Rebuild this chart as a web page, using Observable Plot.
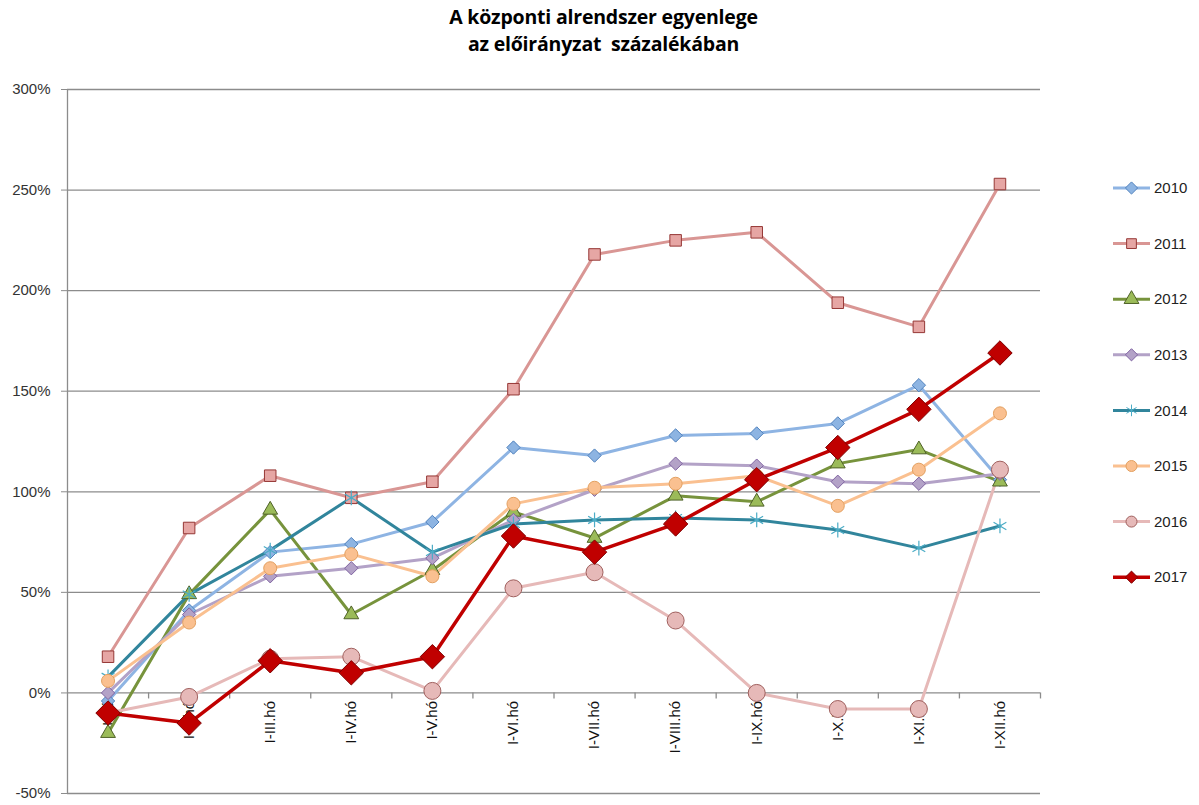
<!DOCTYPE html>
<html>
<head>
<meta charset="utf-8">
<script src="https://cdn.jsdelivr.net/npm/d3@7"></script>
<script src="https://cdn.jsdelivr.net/npm/@observablehq/plot@0.6"></script>
<style>
  body { margin: 0; background: #fff; width: 1199px; height: 805px; overflow: hidden; position: relative; font-family: "Liberation Sans", Arial, sans-serif; }
  #title { height: 70px; box-sizing: border-box; padding-top: 3px; text-align: center; font-family: "Open Sans", sans-serif; font-weight: 700; font-size: 19.5px; line-height: 27px; color: #000; padding-left: 8px; letter-spacing: -0.2px; }
  #legend { position: absolute; left: 1105px; top: 160px; }
</style>
</head>
<body>
<div id="title">A központi alrendszer egyenlege<br>az előirányzat&nbsp; százalékában</div>
<div id="chart"></div>
<div id="legend"></div>
<script>
// ---- data ----
const months = ["I.hó","I-II.hó","I-III.hó","I-IV.hó","I-V.hó","I-VI.hó","I-VII.hó","I-VIII.hó","I-IX.hó","I-X.hó","I-XI.hó","I-XII.hó"];
const years = ["2010","2011","2012","2013","2014","2015","2016","2017"];
const yTicks = [-50, 0, 50, 100, 150, 200, 250, 300];

const v2010 = [-4, 41, 70, 74, 85, 122, 118, 128, 129, 134, 153, 106];
const v2011 = [18, 82, 108, 97, 105, 151, 218, 225, 229, 194, 182, 253];
const v2012 = [-20, 49, 91, 39, 61, 90, 77, 98, 95, 114, 121, 105];
const v2013 = [0, 39, 58, 62, 67, 86, 101, 114, 113, 105, 104, 109];
const v2014 = [8, 49, 71, 97, 70, 84, 86, 87, 86, 81, 72, 83];
const v2015 = [6, 35, 62, 69, 58, 94, 102, 104, 108, 93, 111, 139];
const v2016 = [-10, -2, 17, 18, 1, 52, 60, 36, 0, -8, -8, 111];
const v2017 = [-10, -15, 16, 10, 18, 78, 70, 84, 106, 122, 141, 169];

const seriesValues = {"2010": v2010, "2011": v2011, "2012": v2012, "2013": v2013,
                      "2014": v2014, "2015": v2015, "2016": v2016, "2017": v2017};

// ---- styles ----
const styles = {
  "2010": {line: "#8EB4E3", fill: "#8DB4E2", stroke: "#4F81BD", symbol: "diamond2", r: 6, sw: 3},
  "2011": {line: "#D99694", fill: "#E6A6A4", stroke: "#953735", symbol: "square", r: 6.5, sw: 3},
  "2012": {line: "#77933C", fill: "#9BBB59", stroke: "#4F6228", symbol: "triangle", r: 5.5, sw: 3},
  "2013": {line: "#B3A2C7", fill: "#B3A2C7", stroke: "#8064A2", symbol: "diamond2", r: 6, sw: 3},
  "2014": {line: "#31859C", fill: "none", stroke: "#4BACC6", symbol: "asterisk", r: 7, sw: 3},
  "2015": {line: "#FAC090", fill: "#FAC090", stroke: "#E3A060", symbol: "circle", r: 6.5, sw: 3},
  "2016": {line: "#E6B9B8", fill: "#E6B9B8", stroke: "#A0605E", symbol: "circle", r: 8.5, sw: 3},
  "2017": {line: "#C00000", fill: "#C00000", stroke: "#7F0000", symbol: "diamond2", r: 11, sw: 3.5}
};

// ---- table ----
const rows = years.flatMap(yr => seriesValues[yr].map((v, i) => ({year: yr, i, month: months[i], value: v})));
const bounds = months.map((m, i) => i + 0.5);

const marks = [
  Plot.ruleY(yTicks, {stroke: "#8c8c8c", strokeWidth: 1.3}),
  Plot.ruleX([-0.5], {y1: -50, y2: 300, stroke: "#8c8c8c", strokeWidth: 1.3}),
  Plot.ruleX(bounds, {y1: 0, y2: -3, stroke: "#8c8c8c", strokeWidth: 1.3}),
  Plot.axisY({ticks: yTicks, tickFormat: d => d + "%", tickSize: 6, tickPadding: 11, stroke: "#8c8c8c", fill: "#333", fontSize: 15, label: null}),
  Plot.text(months, {x: (d, i) => i, y: () => 0, text: d => d, rotate: -90, textAnchor: "end", dy: 8, fontSize: 15, fill: "#111", fontFamily: "Liberation Sans, Arial, sans-serif"})
];

for (const yr of years) {
  const s = styles[yr];
  const data = rows.filter(d => d.year === yr);
  marks.push(Plot.line(data, {x: "i", y: "value", stroke: s.line, strokeWidth: s.sw, strokeLinejoin: "round"}));
}
for (const yr of years) {
  const s = styles[yr];
  const data = rows.filter(d => d.year === yr);
  if (s.symbol === "asterisk") {
    marks.push(Plot.dot(data, {x: "i", y: "value", symbol: "asterisk", r: s.r, stroke: s.stroke, strokeWidth: 1.2}));
  } else {
    marks.push(Plot.dot(data, {x: "i", y: "value", symbol: s.symbol, r: s.r, fill: s.fill, stroke: s.stroke, strokeWidth: 1}));
  }
}

const chart = Plot.plot({
  width: 1199,
  height: 735,
  marginTop: 19,
  marginBottom: 12,
  marginLeft: 67,
  marginRight: 159,
  style: {fontFamily: "Liberation Sans, Arial, sans-serif", fontSize: "15px", background: "#fff"},
  x: {type: "linear", domain: [-0.5, 11.5], axis: null},
  y: {domain: [-50, 300], axis: null},
  marks
});
document.getElementById("chart").appendChild(chart);

// ---- legend ----
const legW = 94, rowH = 55.6;
const leg = d3.select("#legend").append("svg").attr("width", legW).attr("height", rowH * years.length + 10);
years.forEach((yr, k) => {
  const s = styles[yr];
  const cy = 28 + k * rowH;
  const g = leg.append("g").attr("transform", `translate(0,${cy})`);
  g.append("line").attr("x1", 8).attr("x2", 45).attr("y1", 0).attr("y2", 0)
    .attr("stroke", s.line).attr("stroke-width", s.sw);
  const symMap = {diamond2: d3.symbolDiamond2, square: d3.symbolSquare, triangle: d3.symbolTriangle, asterisk: d3.symbolAsterisk, circle: d3.symbolCircle};
  const rr = Math.min(s.r, 5.5);
  const size = rr * rr * Math.PI;
  g.append("path").attr("transform", "translate(26.5,0)")
    .attr("d", d3.symbol(symMap[s.symbol], size)())
    .attr("fill", s.symbol === "asterisk" ? "none" : s.fill)
    .attr("stroke", s.stroke).attr("stroke-width", 1);
  g.append("text").attr("x", 49).attr("y", 0).attr("dy", "0.35em")
    .attr("font-size", 15).attr("fill", "#222").attr("font-family", "Liberation Sans, Arial, sans-serif").text(yr);
});
</script>
</body>
</html>
